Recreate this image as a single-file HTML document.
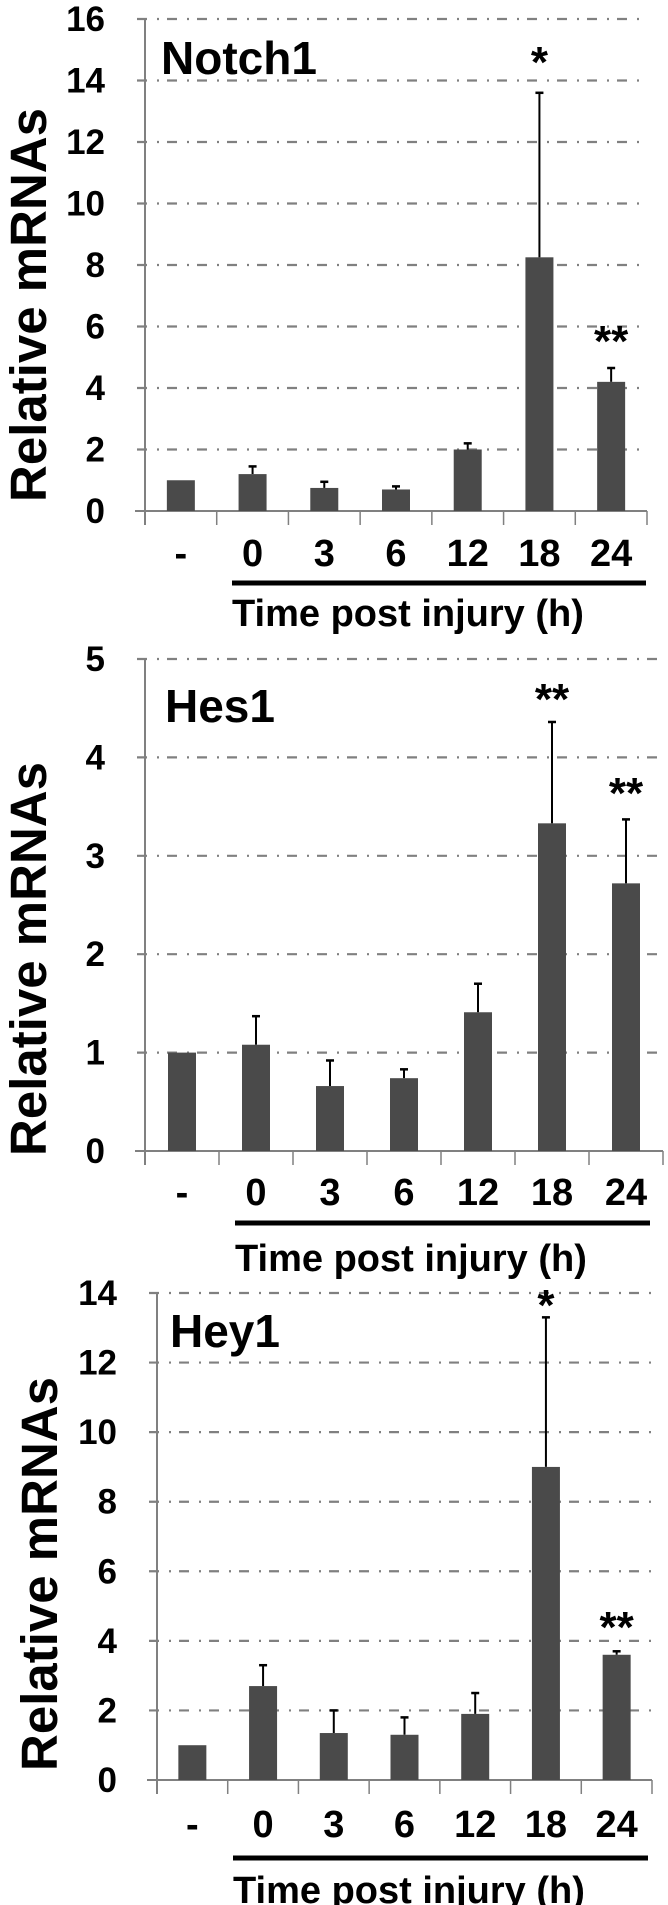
<!DOCTYPE html>
<html><head><meta charset="utf-8"><style>
html,body{margin:0;padding:0;background:#fff;}
svg{display:block;font-family:"Liberation Sans",Arial,sans-serif;font-weight:bold;}
</style></head><body>
<svg id="fig" width="668" height="1905" viewBox="0 0 668 1905"></svg>
<script>
const categories = ["-","0","3","6","12","18","24"];
const notchValues = [1.0,1.2,0.75,0.7,2.0,8.25,4.2];
const notchErrTop = [1.0,1.45,0.95,0.8,2.2,13.6,4.65];
const notchStars = ["","","","","","*","**"];
const notchTicks = [0,2,4,6,8,10,12,14,16];
const hesValues = [1.0,1.08,0.66,0.74,1.41,3.33,2.72];
const hesErrTop = [1.0,1.37,0.92,0.83,1.7,4.36,3.37];
const hesStars = ["","","","","","**","**"];
const hesTicks = [0,1,2,3,4,5];
const heyValues = [1.0,2.7,1.35,1.3,1.9,9.0,3.6];
const heyErrTop = [1.0,3.3,2.0,1.8,2.5,13.3,3.7];
const heyStars = ["","","","","","*","**"];
const heyTicks = [0,2,4,6,8,10,12,14];

const NS="http://www.w3.org/2000/svg";
const svg=document.getElementById('fig');
function mk(tag,attrs,parent,text){const e=document.createElementNS(NS,tag);for(const k in attrs)e.setAttribute(k,attrs[k]);if(text!==undefined)e.textContent=text;(parent||svg).appendChild(e);return e;}

function panel(p,values,errTop,stars,ticks){
  const g=mk('g',{});
  
  
  const ymax=ticks[ticks.length-1];
  const y=v=>p.y0-(v/ymax)*(p.y0-p.ytop);
  const band=(p.x1-p.x0)/categories.length;
  const xc=i=>p.x0+band*(i+0.5);
  ticks.forEach(t=>{
    if(t>0){const l=mk('line',{x1:p.x0-8,x2:p.gridEnd,y1:y(t),y2:y(t),stroke:'#808080','stroke-width':2.2,'stroke-dasharray':'10 10 2 8'},g);
    
    }
    const tl=mk('text',{x:p.x0-40,y:y(t)+12,'font-size':35,'text-anchor':'end',fill:'#000'},g,String(t));
    
    
  });
  const ax=mk('line',{x1:p.x0,x2:p.x0,y1:p.ytop,y2:p.y0+14,stroke:'#808080','stroke-width':2},g);
  
  
  const bx=mk('line',{x1:p.x0-10,x2:p.x1,y1:p.y0,y2:p.y0,stroke:'#808080','stroke-width':2},g);
  
  
  for(let i=0;i<=categories.length;i++){
    const tk=mk('line',{x1:p.x0+band*i,x2:p.x0+band*i,y1:p.y0,y2:p.y0+14,stroke:'#808080','stroke-width':1.5},g);
    
    
  }
  categories.forEach((c,i)=>{
    const bw=28;
    const eb=mk('line',{x1:xc(i),x2:xc(i),y1:y(values[i]),y2:y(errTop[i]),stroke:'#000','stroke-width':2},g);
    
    
    if(errTop[i]>values[i]){const cap=mk('line',{x1:xc(i)-4,x2:xc(i)+4,y1:y(errTop[i]),y2:y(errTop[i]),stroke:'#000','stroke-width':2.5},g);
    
    }
    const r=mk('rect',{x:xc(i)-bw/2,y:y(values[i]),width:bw,height:p.y0-y(values[i]),fill:'#4a4a4a'},g);
    
    
    const lb=mk('text',{x:xc(i),y:p.labY+13,'font-size':38,'text-anchor':'middle',fill:'#000'},g,c);
    
    
    if(stars[i]){const s=mk('text',{x:xc(i),y:p.starY[i]+22,'font-size':44,'text-anchor':'middle',fill:'#000'},g,stars[i]);
    
    }
  });
  const bar=mk('rect',{x:p.lineX0,y:p.lineY-2.5,width:p.lineX1-p.lineX0,height:5,fill:'#000'},g);
  
  
  const tt=mk('text',{x:p.lineX0,y:p.titleY+13,'font-size':38,fill:'#000'},g,'Time post injury (h)');
  
  
  const yl=mk('text',{x:0,y:0,'font-size':51,'text-anchor':'middle',fill:'#000',transform:'translate('+(p.ylx+18)+','+p.yly+') rotate(-90)'},g,'Relative mRNAs');
  
  
  const gn=mk('text',{x:p.nameX,y:p.nameY,'font-size':46,fill:'#000'},g,p.label);
  
  
}

panel({name:'notch1',label:'Notch1',x0:145,x1:647,gridEnd:642,ytop:19,y0:511,labY:553,lineY:583,lineX0:232,lineX1:646,titleY:613,ylx:28,yly:305,nameX:161,nameY:74,starY:[0,0,0,0,0,55,334]},notchValues,notchErrTop,notchStars,notchTicks);
panel({name:'hes1',label:'Hes1',x0:145,x1:663,gridEnd:662,ytop:659,y0:1151,labY:1192,lineY:1223,lineX0:235,lineX1:650,titleY:1258,ylx:28,yly:959,nameX:165,nameY:722,starY:[0,0,0,0,0,692,786]},hesValues,hesErrTop,hesStars,hesTicks);
panel({name:'hey1',label:'Hey1',x0:157,x1:652,gridEnd:652,ytop:1293,y0:1780,labY:1824,lineY:1858,lineX0:233,lineX1:648,titleY:1890,ylx:39,yly:1574,nameX:170,nameY:1347,starY:[0,0,0,0,0,1298,1620]},heyValues,heyErrTop,heyStars,heyTicks);
</script>
</body></html>
